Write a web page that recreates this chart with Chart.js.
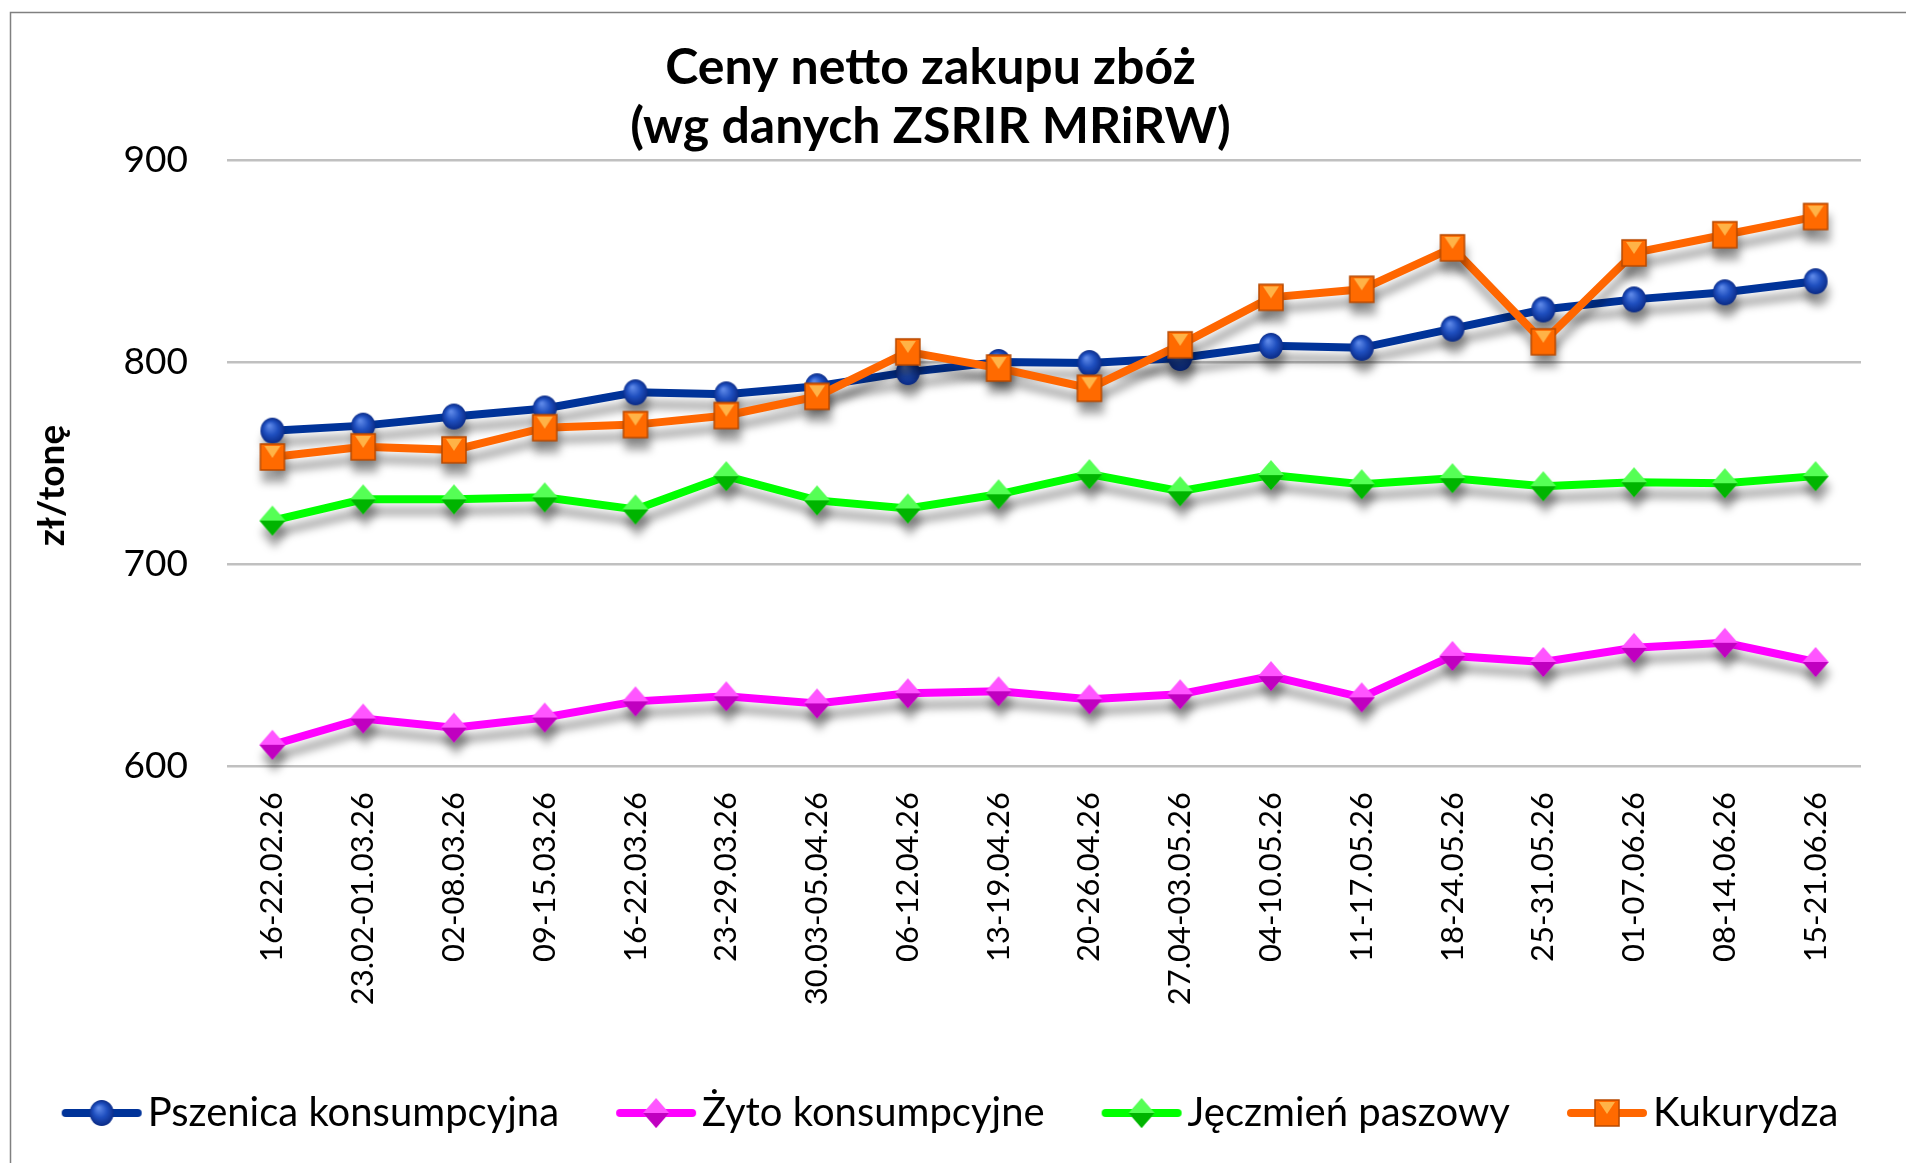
<!DOCTYPE html>
<html>
<head>
<meta charset="utf-8">
<script src="https://cdn.jsdelivr.net/npm/chart.js@4.4.1/dist/chart.umd.min.js"></script>
<style>
  html, body { margin: 0; padding: 0; background: #fff; }
  #wrap { width: 1906px; height: 1163px; position: relative; }
</style>
</head>
<body>
<div id="wrap"><canvas id="wykres" width="1906" height="1163"></canvas></div>
<script>
// DANE
const tygodnie = ["16-22.02.26", "23.02-01.03.26", "02-08.03.26", "09-15.03.26", "16-22.03.26", "23-29.03.26",
  "30.03-05.04.26", "06-12.04.26", "13-19.04.26", "20-26.04.26", "27.04-03.05.26", "04-10.05.26",
  "11-17.05.26", "18-24.05.26", "25-31.05.26", "01-07.06.26", "08-14.06.26", "15-21.06.26"];
const pszenica = [766, 768.5, 773, 777, 785, 784, 788, 795, 800, 799.5, 802, 808, 807, 816.5, 826, 831, 834.5, 840];
const zyto = [610.5, 623.5, 619, 624, 632, 634.5, 631, 636, 637, 633, 635.5, 644.5, 634, 654.5, 651.5, 658.5, 661, 651.5];
const jeczmien = [721.5, 732, 732, 733, 727, 743.5, 731.5, 727.5, 734.5, 744.5, 736, 744, 739.5, 742.5, 738.5, 740.5, 740, 743.5];
const kukurydza = [753, 758, 756.5, 767.5, 769, 773.5, 783, 805, 797, 787, 808.5, 832, 836, 856.5, 810, 854, 863, 872];
const osY = [600, 700, 800, 900];

const FONT = 'Lato, "Open Sans", sans-serif';

// MARKERY (male canvasy jako pointStyle)
function rysujMarker(ctx, typ, cx, cy) {
  ctx.save();
  if (typ === 'kolo') {
    const g = ctx.createRadialGradient(cx - 3, cy - 5, 1, cx, cy, 13);
    g.addColorStop(0, '#5b86e6');
    g.addColorStop(0.5, '#1f4fbf');
    g.addColorStop(1, '#0a2a85');
    ctx.fillStyle = g;
    ctx.beginPath();
    ctx.ellipse(cx, cy, 12, 13, 0, 0, Math.PI * 2);
    ctx.fill();
  } else if (typ === 'romb_r' || typ === 'romb_z') {
    const jasny = typ === 'romb_r' ? '#ff55ff' : '#55ff55';
    const ciemny = typ === 'romb_r' ? '#c000c0' : '#00b400';
    const w = 13, h = 15;
    ctx.fillStyle = jasny;
    ctx.beginPath();
    ctx.moveTo(cx, cy - h); ctx.lineTo(cx + w, cy); ctx.lineTo(cx, cy + h); ctx.lineTo(cx - w, cy); ctx.closePath();
    ctx.fill();
    ctx.fillStyle = ciemny;
    ctx.beginPath();
    ctx.moveTo(cx - w, cy); ctx.lineTo(cx + w, cy); ctx.lineTo(cx, cy + h); ctx.closePath();
    ctx.fill();
  } else if (typ === 'kwadrat') {
    ctx.fillStyle = '#ff6a00';
    ctx.strokeStyle = '#b84a00';
    ctx.lineWidth = 1.5;
    ctx.fillRect(cx - 12, cy - 13, 24, 26);
    ctx.strokeRect(cx - 12, cy - 13, 24, 26);
    ctx.fillStyle = '#ffb347';
    ctx.beginPath();
    ctx.moveTo(cx - 8, cy - 11); ctx.lineTo(cx + 8, cy - 11); ctx.lineTo(cx, cy + 1); ctx.closePath();
    ctx.fill();
  }
  ctx.restore();
}

function marker(typ) {
  const c = document.createElement('canvas');
  c.width = 32; c.height = 34;
  rysujMarker(c.getContext('2d'), typ, 16, 17);
  return c;
}

// obrazek do legendy: linia + marker, z pustym miejscem po lewej
const LEG_BOX = 105;
const LEG_W = LEG_BOX + 30;
function legendaObraz(typ, kolor) {
  const c = document.createElement('canvas');
  c.width = LEG_W; c.height = 34;
  const ctx = c.getContext('2d');
  ctx.strokeStyle = kolor;
  ctx.lineWidth = 8;
  ctx.lineCap = 'round';
  ctx.beginPath();
  ctx.moveTo(LEG_W - 77, 17); ctx.lineTo(LEG_W - 5, 17);
  ctx.stroke();
  rysujMarker(ctx, typ, LEG_W - 41, 17);
  return c;
}

const serie = [
  { label: 'Pszenica konsumpcyjna', data: pszenica, kolor: '#003399', typ: 'kolo', order: 4 },
  { label: 'Żyto konsumpcyjne', data: zyto, kolor: '#ff00ff', typ: 'romb_r', order: 3 },
  { label: 'Jęczmień paszowy', data: jeczmien, kolor: '#00ff00', typ: 'romb_z', order: 2 },
  { label: 'Kukurydza', data: kukurydza, kolor: '#ff6600', typ: 'kwadrat', order: 1 }
];

const legendaObrazy = serie.map(s => legendaObraz(s.typ, s.kolor));

// CIEN POD LINIAMI
const cien = {
  id: 'cien',
  beforeDatasetsDraw(chart) {
    const c = chart.ctx;
    c.save();
    c.shadowColor = 'rgba(0,0,0,0.35)';
    c.shadowBlur = 9;
    c.shadowOffsetX = 2;
    c.shadowOffsetY = 12;
  },
  afterDatasetsDraw(chart) { chart.ctx.restore(); }
};

// RAMKA WYKRESU
const ramka = {
  id: 'ramka',
  beforeDraw(chart) {
    const c = chart.ctx;
    c.save();
    c.fillStyle = '#fff';
    c.fillRect(0, 0, chart.width, chart.height);
    c.strokeStyle = '#808080';
    c.lineWidth = 1.5;
    c.strokeRect(10.5, 12.5, chart.width + 20, chart.height + 20);
    c.restore();
  }
};

new Chart(document.getElementById('wykres'), {
  type: 'line',
  data: {
    labels: tygodnie,
    datasets: serie.map(s => ({
      label: s.label,
      data: s.data,
      borderColor: s.kolor,
      backgroundColor: s.kolor,
      borderWidth: 8,
      tension: 0,
      pointStyle: marker(s.typ),
      pointRadius: 12,
      order: s.order,
      clip: false
    }))
  },
  options: {
    responsive: false,
    animation: false,
    devicePixelRatio: 1,
    layout: { padding: { left: 0, right: 45, top: 0, bottom: 20 } },
    plugins: {
      tooltip: { enabled: false },
      title: {
        display: true,
        text: ['Ceny netto zakupu zbóż', '(wg danych ZSRIR MRiRW)'],
        color: '#000',
        font: { family: FONT, size: 50, weight: 'bold', lineHeight: 1.18 },
        padding: { top: 38, bottom: 4 }
      },
      legend: {
        position: 'bottom',
        labels: {
          usePointStyle: true,
          pointStyleWidth: LEG_BOX,
          padding: 18,
          color: '#000',
          font: { family: FONT, size: 40 },
          generateLabels(chart) {
            return chart.data.datasets.map((ds, i) => ({
              text: ds.label,
              pointStyle: legendaObrazy[i],
              fillStyle: ds.borderColor,
              strokeStyle: ds.borderColor,
              lineWidth: 0,
              hidden: false,
              datasetIndex: i,
              fontColor: '#000'
            }));
          }
        }
      }
    },
    scales: {
      x: {
        offset: true,
        grid: { display: false },
        border: { display: false },
        ticks: {
          color: '#000',
          font: { family: FONT, size: 31 },
          autoSkip: false,
          minRotation: 90,
          maxRotation: 90,
          padding: 18
        },
        afterFit(scale) { scale.height = 309; }
      },
      y: {
        min: osY[0],
        max: osY[osY.length - 1],
        afterBuildTicks(scale) { scale.ticks = osY.map(v => ({ value: v })); },
        grid: { color: '#c0c0c0', lineWidth: 2.5, drawTicks: false },
        border: { display: false },
        ticks: {
          color: '#000',
          font: { family: FONT, size: 37 },
          padding: 39
        },
        title: {
          display: true,
          text: 'zł/tonę     ',
          color: '#000',
          font: { family: FONT, size: 37, weight: 'bold' },
          padding: { top: 30, bottom: 0 }
        },
        afterFit(scale) { scale.width = 227; }
      }
    }
  },
  plugins: [ramka, cien]
});
</script>
</body>
</html>
